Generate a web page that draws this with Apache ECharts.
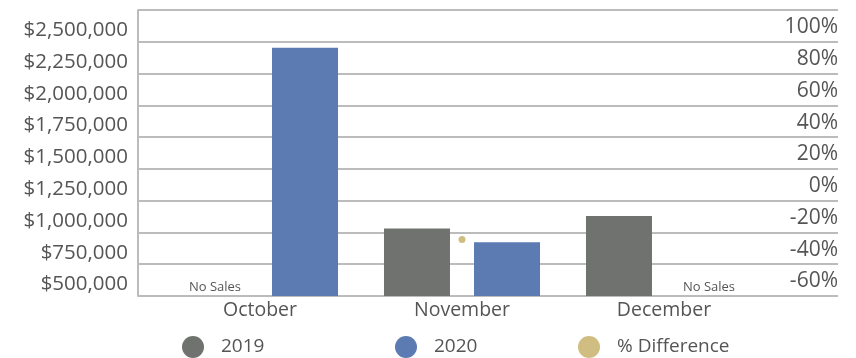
<!DOCTYPE html>
<html>
<head>
<meta charset="utf-8">
<script src="https://cdn.jsdelivr.net/npm/echarts@6/dist/echarts.min.js"></script>
<style>
  html, body { margin: 0; padding: 0; background: #fff; }
  #chart { width: 856px; height: 358px; }
</style>
</head>
<body>
<div id="chart"></div>
<script>
// Monthly sales by year, with the year-over-year change
const months = ['October', 'November', 'December'];
const sales2019 = [null, 1032000, 1129000];
const sales2020 = [2453000, 922000, null];
const pctDiff = [null, -24.4, null];

// Axis ticks
const salesTicks = [500000, 750000, 1000000, 1250000, 1500000, 1750000, 2000000, 2250000, 2500000];
const pctTicks = [-60, -40, -20, 0, 20, 40, 60, 80, 100];

const FONT = 'Open Sans';
const TEXT = '#555555';
const GRID_LINE = '#bcbcbc';
const GRAY = '#707270';
const BLUE = '#5b7bb2';
const GOLD = '#c4ac62';

const salesStep = salesTicks[1] - salesTicks[0];
const salesMin = salesTicks[0];
const salesMax = salesTicks[salesTicks.length - 1] + salesStep;
const pctStep = pctTicks[1] - pctTicks[0];
const pctMin = pctTicks[0];
const pctMax = pctTicks[pctTicks.length - 1] + pctStep;

function money(v) {
  return '$' + v.toLocaleString('en-US');
}

// Months without sales sit on the floor of the axis and carry a "No Sales" note
function barData(values) {
  return values.map(v => v == null ? {
    value: salesMin,
    itemStyle: { color: 'rgba(0,0,0,0)' },
    label: {
      show: true, position: 'top', distance: 2, formatter: 'No Sales',
      fontFamily: FONT, fontSize: 13, color: TEXT
    }
  } : v);
}

const chart = echarts.init(document.getElementById('chart'), null, { renderer: 'canvas' });

const legendBase = {
  top: 336, padding: 0, icon: 'circle', itemWidth: 22, itemHeight: 22, selectedMode: false,
  textStyle: { fontFamily: FONT, fontSize: 19, color: TEXT, padding: [0, 0, 0, 12] }
};

chart.setOption({
  animation: false,
  backgroundColor: '#ffffff',
  legend: [
    Object.assign({ left: 182, data: ['2019'] }, legendBase),
    Object.assign({ left: 395, data: ['2020'] }, legendBase),
    Object.assign({ left: 578, data: ['% Difference'] }, legendBase)
  ],
  grid: [
    { left: 138, right: 18, top: 10, bottom: 62 },
    { left: 159, width: 606, top: 10, bottom: 62 }
  ],
  xAxis: [
    { type: 'category', gridIndex: 0, data: months, show: false },
    {
      type: 'category', gridIndex: 1, data: months,
      axisLine: { show: false }, axisTick: { show: false },
      axisLabel: { fontFamily: FONT, fontSize: 19.5, color: TEXT, margin: 4 }
    }
  ],
  yAxis: [
    {
      type: 'value', gridIndex: 0, position: 'left',
      min: salesMin, max: salesMax, interval: salesStep,
      axisLine: { show: true, lineStyle: { color: GRID_LINE, width: 2 } },
      axisTick: { show: false },
      splitLine: { show: true, lineStyle: { color: GRID_LINE, width: 2 } },
      axisLabel: {
        fontFamily: FONT, fontSize: 20.5, color: TEXT, margin: 10,
        verticalAlign: 'bottom', padding: [0, 0, 1, 0],
        formatter: v => salesTicks.includes(v) ? money(v) : ''
      }
    },
    {
      type: 'value', gridIndex: 0, position: 'right',
      min: pctMin, max: pctMax, interval: pctStep,
      axisLine: { show: false }, axisTick: { show: false }, splitLine: { show: false },
      axisLabel: {
        inside: true, margin: 0, fontFamily: FONT, fontSize: 21, color: TEXT,
        verticalAlign: 'bottom', padding: [0, 0, 4, 0],
        formatter: v => pctTicks.includes(v) ? v + '%' : ''
      }
    },
    { type: 'value', gridIndex: 1, min: salesMin, max: salesMax, interval: salesStep, show: false, splitLine: { show: false } },
    { type: 'value', gridIndex: 1, min: pctMin, max: pctMax, interval: pctStep, show: false, splitLine: { show: false } }
  ],
  series: [
    {
      name: '2019', type: 'bar', xAxisIndex: 1, yAxisIndex: 2,
      barWidth: 66, barGap: '36.4%',
      itemStyle: { color: GRAY },
      data: barData(sales2019)
    },
    {
      name: '2020', type: 'bar', xAxisIndex: 1, yAxisIndex: 2,
      barWidth: 66, barGap: '36.4%',
      itemStyle: { color: BLUE },
      data: barData(sales2020)
    },
    {
      name: '% Difference', type: 'scatter', xAxisIndex: 1, yAxisIndex: 3,
      symbol: 'circle', symbolSize: 7,
      itemStyle: { color: GOLD },
      data: pctDiff
    }
  ]
});
</script>
</body>
</html>
